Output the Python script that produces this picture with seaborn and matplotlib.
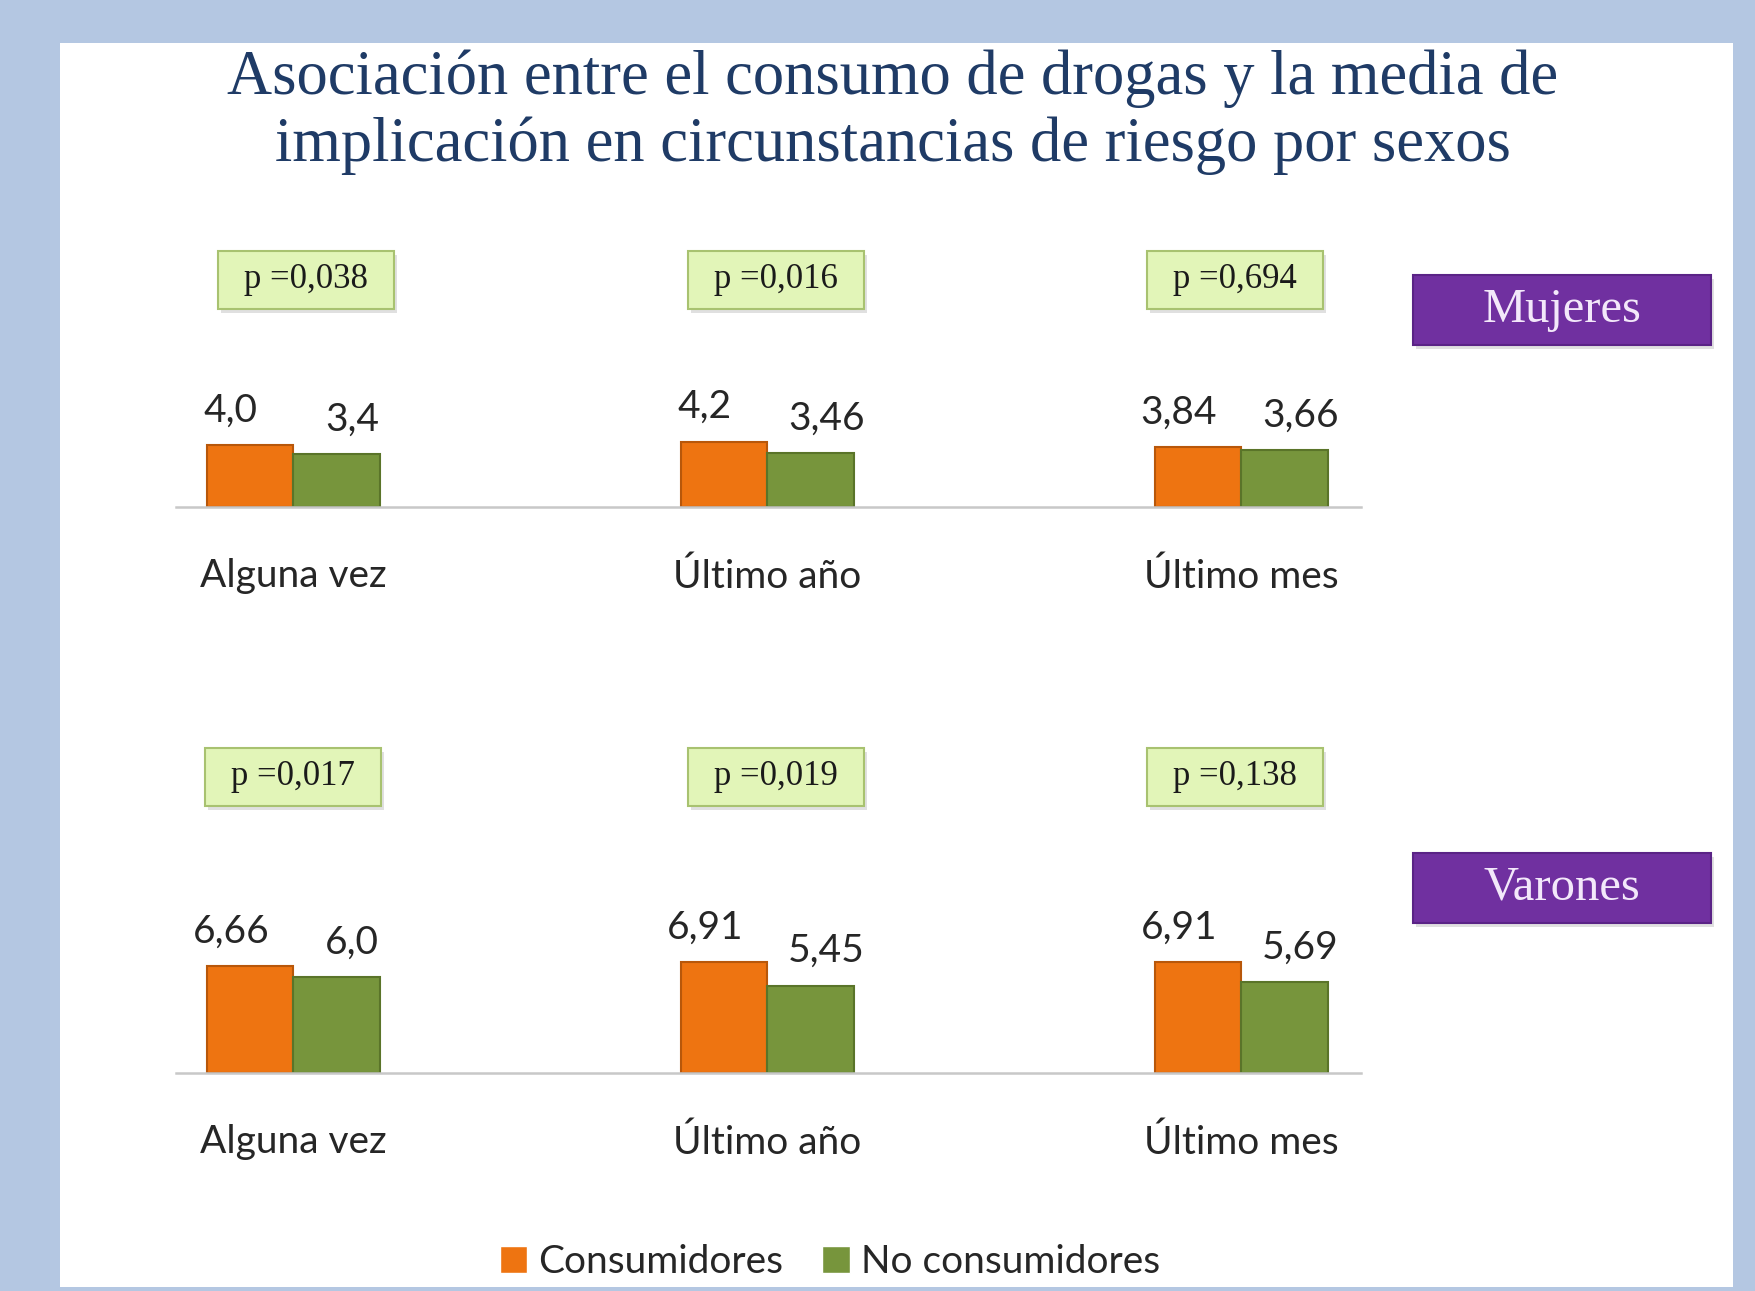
import pandas as pd
import matplotlib.pyplot as plt
import seaborn as sns
from matplotlib.patches import Rectangle

# Data
periodos = ['Alguna vez', 'Último año', 'Último mes']
grupos = ['Consumidores', 'No consumidores']
mujeres_cons = [4.0, 4.2, 3.84]
mujeres_nocons = [3.4, 3.46, 3.66]
varones_cons = [6.66, 6.91, 6.91]
varones_nocons = [6.0, 5.45, 5.69]
p_mujeres = ['0,038', '0,016', '0,694']
p_varones = ['0,017', '0,019', '0,138']

titulo = ('Asociación entre el consumo de drogas y la media de\n'
          'implicación en circunstancias de riesgo por sexos')

NARANJA = '#EE7411'
VERDE = '#77953C'
BORDE = ['#B8570A', '#5A7429']
FONDO = '#B4C7E2'
W, H = 1756, 1291

sns.set_theme(style='white')
plt.rcParams['font.family'] = ['Lato', 'DejaVu Sans']

fig = plt.figure(figsize=(W / 100, H / 100), dpi=100, facecolor=FONDO)

# white slide panel
fig.add_artist(Rectangle((60 / W, 1 - 1287 / H), (1733 - 60) / W, (1287 - 43) / H,
                         transform=fig.transFigure, facecolor='white',
                         edgecolor='none', zorder=0))

fig.text(893 / W, 1 - 112 / H, titulo, ha='center', va='center',
         fontsize=45, color='#1F3B66', family='Liberation Serif',
         linespacing=1.2)


def fig_box(cx, cy, w, h, text, face, edge, tcolor, fsize):
    # cx, cy in pixels from top-left
    fig.add_artist(Rectangle(((cx - w / 2 + 3) / W, 1 - (cy + h / 2 + 4) / H), w / W, h / H,
                             transform=fig.transFigure, facecolor='#000000',
                             alpha=0.12, edgecolor='none', zorder=2))
    fig.add_artist(Rectangle(((cx - w / 2) / W, 1 - (cy + h / 2) / H), w / W, h / H,
                             transform=fig.transFigure, facecolor=face,
                             edgecolor=edge, linewidth=1.5, zorder=3))
    fig.text(cx / W, 1 - cy / H, text, ha='center', va='center', fontsize=fsize,
             color=tcolor, family='Liberation Serif', zorder=4)


def panel(baseline, px_unit, cons, nocons, pvals, p_y, p_dx):
    ax_h = 260
    ax = fig.add_axes([176 / W, 1 - baseline / H, (1361 - 176) / W, ax_h / H])
    ax.patch.set_alpha(0)
    df = pd.DataFrame({'periodo': periodos * 2,
                       'grupo': [grupos[0]] * 3 + [grupos[1]] * 3,
                       'valor': cons + nocons})
    sns.barplot(data=df, x='periodo', y='valor', hue='grupo',
                palette=[NARANJA, VERDE], width=0.365, gap=0, saturation=1,
                errorbar=None, ax=ax)
    for cont, borde, dx in zip(ax.containers, BORDE, [-19, 16]):
        for bar in cont:
            bar.set_edgecolor(borde)
            bar.set_linewidth(1.5)
            h = bar.get_height()
            ax.annotate(str(round(h, 2)).replace('.', ','),
                        (bar.get_x() + bar.get_width() / 2, h),
                        xytext=(dx * 0.72, 25), textcoords='offset points',
                        ha='center', va='center', fontsize=28, color='#262626')
    ax.set_xlim(-0.247, 2.253)
    ax.set_ylim(0, ax_h / px_unit)
    ax.set_xlabel('')
    ax.set_ylabel('')
    ax.set_yticks([])
    ax.tick_params(axis='x', length=0, pad=37, labelsize=28, labelcolor='#262626')
    for s in ['top', 'left', 'right']:
        ax.spines[s].set_visible(False)
    ax.spines['bottom'].set_color('#C8C8C8')
    ax.spines['bottom'].set_linewidth(1.8)
    handles, labels = ax.get_legend_handles_labels()
    ax.get_legend().remove()

    for i, (p, dx) in enumerate(zip(pvals, p_dx)):
        cx = ax.transData.transform((i, 0))[0] + dx
        fig_box(cx, p_y, 176, 58, 'p =' + p, '#E2F5B8', '#A8C270', '#1A1A1A', 25)
    return handles, labels


handles, labels = panel(507, 15.5, mujeres_cons, mujeres_nocons, p_mujeres, 280, [13, 9, -6])
panel(1073, 16.0, varones_cons, varones_nocons, p_varones, 777, [0, 9, -6])

fig_box(1562, 310, 298, 70, 'Mujeres', '#7030A0', '#5A2386', '#F3E8FA', 35)
fig_box(1562, 888, 298, 70, 'Varones', '#7030A0', '#5A2386', '#F3E8FA', 35)

fig.legend(handles, labels, loc='center', bbox_to_anchor=(830 / W, 1 - 1262 / H),
           ncol=2, frameon=False, fontsize=28, handlelength=0.7, handleheight=0.7,
           handletextpad=0.3, columnspacing=1.0, labelcolor='#262626')

fig.savefig('out.png', dpi=100, facecolor=FONDO)
